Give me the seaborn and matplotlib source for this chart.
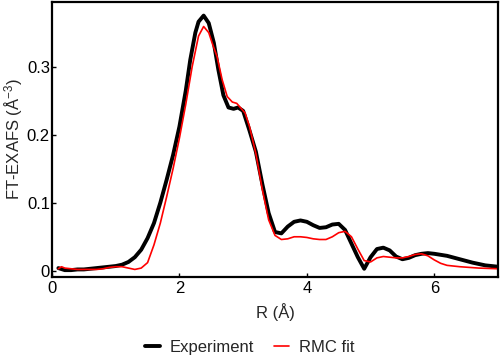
import numpy as np
import pandas as pd
import matplotlib
matplotlib.use("Agg")
import matplotlib.pyplot as plt
import seaborn as sns
from matplotlib.ticker import FuncFormatter

# Experiment curve
r_exp = [0.1, 0.2, 0.3, 0.4, 0.5, 0.6, 0.7, 0.8, 0.9, 1.0,
         1.1, 1.2, 1.3, 1.4, 1.5, 1.6, 1.7, 1.8, 1.9, 2.0,
         2.1, 2.17, 2.25, 2.3, 2.38, 2.46, 2.54, 2.61, 2.69, 2.77,
         2.85, 2.92, 3.0, 3.1, 3.2, 3.3, 3.4, 3.5, 3.6, 3.7,
         3.8, 3.9, 4.0, 4.1, 4.2, 4.3, 4.4, 4.5, 4.6, 4.7,
         4.8, 4.9, 5.0, 5.1, 5.2, 5.3, 5.4, 5.5, 5.6, 5.7,
         5.8, 5.9, 6.0, 6.2, 6.4, 6.6, 6.8, 7.0]
ft_exp = [0.004, 0.001, 0.001, 0.002, 0.002, 0.003, 0.004, 0.005, 0.006, 0.007,
          0.009, 0.013, 0.020, 0.031, 0.048, 0.070, 0.100, 0.134, 0.170, 0.212,
          0.265, 0.310, 0.350, 0.366, 0.375, 0.364, 0.335, 0.296, 0.258, 0.240,
          0.238, 0.240, 0.235, 0.206, 0.175, 0.128, 0.085, 0.057, 0.055, 0.065,
          0.072, 0.074, 0.072, 0.067, 0.063, 0.064, 0.068, 0.069, 0.060, 0.040,
          0.020, 0.003, 0.020, 0.032, 0.034, 0.030, 0.021, 0.017, 0.019, 0.023,
          0.025, 0.026, 0.025, 0.022, 0.017, 0.012, 0.008, 0.006]

# RMC fit curve
r_fit = [0.1, 0.15, 0.2, 0.3, 0.4, 0.5, 0.6, 0.7, 0.8, 0.9,
         1.0, 1.1, 1.2, 1.3, 1.4, 1.5, 1.6, 1.7, 1.8, 1.9,
         2.0, 2.1, 2.2, 2.3, 2.38, 2.46, 2.52, 2.59, 2.67, 2.75,
         2.83, 2.9, 3.03, 3.1, 3.2, 3.3, 3.4, 3.5, 3.6, 3.7,
         3.8, 3.9, 4.0, 4.1, 4.2, 4.3, 4.4, 4.5, 4.6, 4.7,
         4.8, 4.9, 5.0, 5.1, 5.2, 5.3, 5.4, 5.5, 5.6, 5.7,
         5.8, 5.9, 6.0, 6.1, 6.2, 6.4, 6.7, 7.0]
ft_fit = [0.003, 0.006, 0.004, 0.003, 0.002, 0.002, 0.002, 0.002, 0.003, 0.005,
          0.006, 0.006, 0.004, 0.002, 0.004, 0.012, 0.038, 0.070, 0.109, 0.150,
          0.195, 0.245, 0.300, 0.345, 0.359, 0.350, 0.333, 0.315, 0.281, 0.256,
          0.248, 0.246, 0.232, 0.212, 0.172, 0.120, 0.075, 0.052, 0.046, 0.047,
          0.050, 0.050, 0.049, 0.047, 0.046, 0.046, 0.050, 0.056, 0.058, 0.050,
          0.032, 0.015, 0.013, 0.019, 0.021, 0.020, 0.019, 0.019, 0.021, 0.024,
          0.025, 0.022, 0.016, 0.011, 0.008, 0.006, 0.004, 0.003]

sns.set_style("ticks")
plt.rcParams["font.family"] = ["Liberation Sans", "DejaVu Sans"]
plt.rcParams["mathtext.fontset"] = "custom"
plt.rcParams["mathtext.rm"] = "Liberation Sans"
plt.rcParams["mathtext.it"] = "Liberation Sans:italic"
plt.rcParams["font.size"] = 12

fig = plt.figure(figsize=(5, 3.62), dpi=100)
ax = fig.add_axes([0.104, 0.235, 0.892, 0.7595])

df_exp = pd.DataFrame({"R": r_exp, "FT": ft_exp})
df_fit = pd.DataFrame({"R": r_fit, "FT": ft_fit})
sns.lineplot(data=df_exp, x="R", y="FT", ax=ax, color="black", lw=2.8, label="Experiment")
sns.lineplot(data=df_fit, x="R", y="FT", ax=ax, color="#ff0000", lw=1.2, label="RMC fit")

ax.set_xlim(0, 7)
ax.set_ylim(-0.009, 0.395)
ax.set_xticks([0, 2, 4, 6])
ax.set_yticks([0, 0.1, 0.2, 0.3])
ax.yaxis.set_major_formatter(FuncFormatter(lambda v, p: "0" if v == 0 else f"{v:.1f}"))
ax.set_xlabel("R (Å)", fontsize=12, labelpad=5)
ax.set_ylabel("FT-EXAFS (Å$^{-3}$)", fontsize=12, labelpad=1)
ax.tick_params(axis="y", direction="in", length=3, width=1.0, pad=1.5, labelsize=12, colors="black")
ax.tick_params(axis="x", direction="in", length=3, width=1.0, pad=3, labelsize=12, colors="black")
for s in ax.spines.values():
    s.set_linewidth(1.6)
    s.set_color("black")

handles, labels = ax.get_legend_handles_labels()
ax.get_legend().remove()
fig.legend(handles, labels, loc="center", bbox_to_anchor=(0.5, 0.04), ncol=2,
           frameon=False, fontsize=12, handlelength=0.9, handletextpad=0.6,
           columnspacing=1.2)

fig.savefig("out.png", dpi=100)
